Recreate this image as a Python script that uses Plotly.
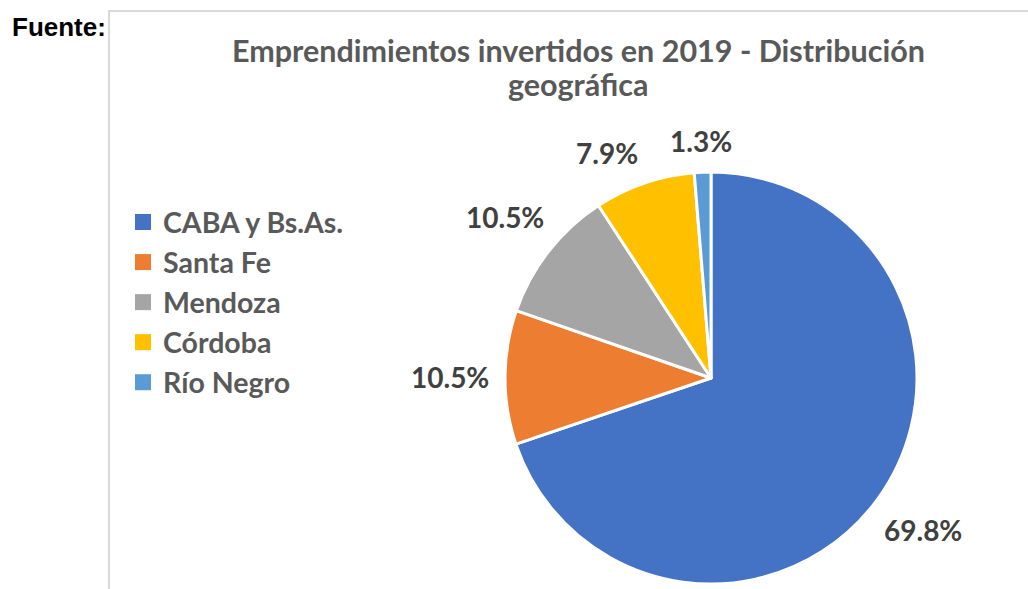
import math
import plotly.graph_objects as go

labels = ["CABA y Bs.As.", "Santa Fe", "Mendoza", "Córdoba", "Río Negro"]
values = [69.8, 10.5, 10.5, 7.9, 1.3]
colors = ["#4472C4", "#ED7D31", "#A5A5A5", "#FFC000", "#5B9BD5"]
title_lines = ["Emprendimientos invertidos en 2019 - Distribución", "geográfica"]

W, H = 1028, 589
cx, cy, r = 711, 378, 206
LBL_SIZE = 28

fig = go.Figure()
fig.add_trace(go.Pie(
    labels=labels, values=values, sort=False, direction="clockwise", rotation=0,
    marker=dict(colors=colors, line=dict(color="white", width=3)),
    textinfo="none", showlegend=False,
    domain=dict(x=[(cx - r) / W, (cx + r) / W], y=[(H - cy - r) / H, (H - cy + r) / H]),
    hoverinfo="label+percent",
))

# legend entries (square markers) built from the same labels/colors
for lab, col in zip(labels, colors):
    fig.add_trace(go.Scatter(x=[None], y=[None], mode="markers", name=lab,
                             marker=dict(symbol="square", size=17, color=col),
                             showlegend=True, hoverinfo="skip"))

# data labels placed outside the slice ends (Excel "outside end" style)
gap = 16
hh = 14


def place(angle, txt):
    sx, sy = math.sin(angle), -math.cos(angle)
    hw = 0.275 * LBL_SIZE * len(txt)
    d = r + gap + abs(sx) * hw + abs(sy) * hh
    return cx + sx * d, cy + sy * d, hw


total = sum(values)
cum = 0.0
items = []
for v in values:
    mid = (cum + v / 2) / total * 2 * math.pi
    cum += v
    txt = f"{v:.1f}%"
    items.append([mid, txt])

# simple overlap avoidance: keep a minimum horizontal gap between neighbouring labels
MIN_GAP = 32
for i in range(len(items) - 2, -1, -1):
    xn, yn, hwn = place(*items[i + 1])
    for _ in range(200):
        x, y, hw = place(*items[i])
        if abs(y - yn) > 2 * hh + 4 or (xn - hwn) - (x + hw) >= MIN_GAP or x > xn:
            break
        items[i][0] -= math.radians(0.5)

annotations = []
for mid, txt in items:
    px, py, _ = place(mid, txt)
    annotations.append(dict(text=f"<b>{txt}</b>", x=px / W, y=1 - py / H,
                            xref="paper", yref="paper", xanchor="center", yanchor="middle",
                            showarrow=False,
                            font=dict(family="Lato", size=LBL_SIZE, color="#404040")))

annotations += [
    dict(text="<b>Fuente:</b>", x=10 / W, y=1 - 27 / H, xref="paper", yref="paper",
         xanchor="left", yanchor="middle", showarrow=False,
         font=dict(family="Liberation Sans", size=26, color="#000000")),
    dict(text=f"<b>{title_lines[0]}</b>", x=578 / W, y=1 - 50 / H, xref="paper", yref="paper",
         xanchor="center", yanchor="middle", showarrow=False,
         font=dict(family="Lato", size=30.5, color="#595959")),
    dict(text=f"<b>{title_lines[1]}</b>", x=578 / W, y=1 - 84 / H, xref="paper", yref="paper",
         xanchor="center", yanchor="middle", showarrow=False,
         font=dict(family="Lato", size=30.5, color="#595959")),
]

fig.update_layout(
    width=W, height=H, margin=dict(l=0, r=0, t=0, b=0),
    paper_bgcolor="white", plot_bgcolor="white",
    xaxis=dict(visible=False), yaxis=dict(visible=False),
    showlegend=True,
    legend=dict(x=123 / W, y=1 - 197 / H, xanchor="left", yanchor="top",
                font=dict(family="Lato", size=28.5, color="#595959", weight="bold"),
                bgcolor="rgba(0,0,0,0)"),
    shapes=[dict(type="rect", xref="paper", yref="paper",
                 x0=109 / W, x1=1.05, y0=-0.05, y1=1 - 11 / H,
                 line=dict(color="#D9D9D9", width=2), fillcolor="rgba(0,0,0,0)", layer="below")],
    annotations=annotations,
)

fig.write_html("out.html", config={"displayModeBar": False},
               post_script="document.body.style.margin='0px';")
